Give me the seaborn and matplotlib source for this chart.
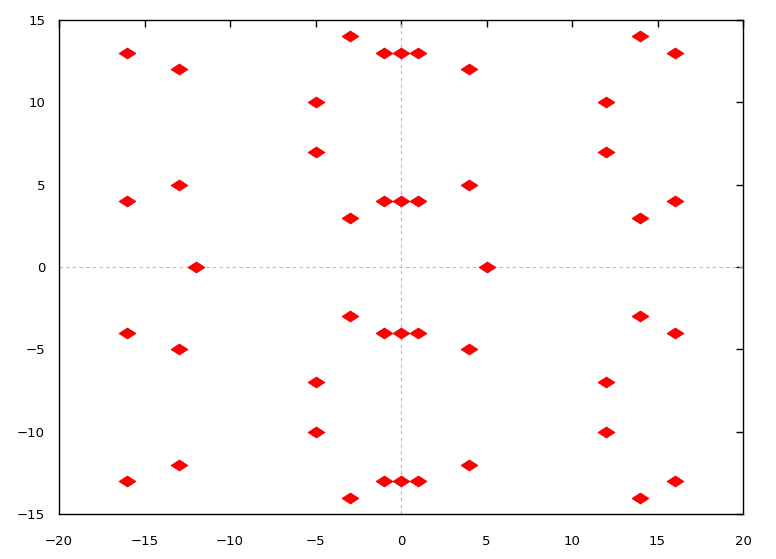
import numpy as np
import pandas as pd
import matplotlib
matplotlib.use("Agg")
import matplotlib.pyplot as plt
import seaborn as sns
from matplotlib.path import Path

# points (upper half, lower half is the mirror)
x_upper = [-16, -13, -3, -1, 0, 1, 4, 14, 16, -5, 12, -5, 12,
           -13, 4, -16, -3, -1, 0, 1, 14, 16, -12, 5]
y_upper = [13, 12, 14, 13, 13, 13, 12, 14, 13, 10, 10, 7, 7,
           5, 5, 4, 3, 4, 4, 4, 3, 4, 0, 0]
x_lower = [-16, -13, -3, -1, 0, 1, 4, 14, 16, -5, 12, -5, 12,
           -13, 4, -16, -3, -1, 0, 1, 14, 16]
y_lower = [-13, -12, -14, -13, -13, -13, -12, -14, -13, -10, -10, -7, -7,
           -5, -5, -4, -3, -4, -4, -4, -3, -4]

df = pd.DataFrame({
    "x": x_upper + x_lower,
    "y": y_upper + y_lower,
})

sns.set_style("white")
plt.rcParams['font.family'] = ['DejaVu Sans']

fig = plt.figure(figsize=(7.76, 5.59), dpi=100)
ax = fig.add_axes([59 / 776, 45 / 559, (743 - 59) / 776, (514 - 20) / 559])

# flat diamond like gnuplot's point type
diamond = Path([(-1, 0), (0, 0.65), (1, 0), (0, -0.65), (-1, 0)],
               [Path.MOVETO, Path.LINETO, Path.LINETO, Path.LINETO, Path.CLOSEPOLY])

ax.axhline(0, color='#b8b8b8', lw=0.8, ls=(0, (3, 3)), zorder=1)
ax.axvline(0, color='#b8b8b8', lw=0.8, ls=(0, (3, 3)), zorder=1)

sns.scatterplot(data=df, x="x", y="y", ax=ax, marker=diamond, s=150,
                color='#ff0000', edgecolor='#e00000', linewidth=0.5, zorder=3)

ax.set_xlim(-20, 20)
ax.set_ylim(-15, 15)
ax.set_xticks(np.arange(-20, 21, 5))
ax.set_yticks(np.arange(-15, 16, 5))
ax.set_xlabel("")
ax.set_ylabel("")

for side in ax.spines.values():
    side.set_color('black')
    side.set_linewidth(1.0)

ax.tick_params(direction='in', length=5, width=1, color='black',
               labelcolor='black', top=True, right=True, labelsize=9.5)
ax.tick_params(axis='x', pad=15)
ax.tick_params(axis='y', pad=10)

fig.savefig("out.png", dpi=100)
